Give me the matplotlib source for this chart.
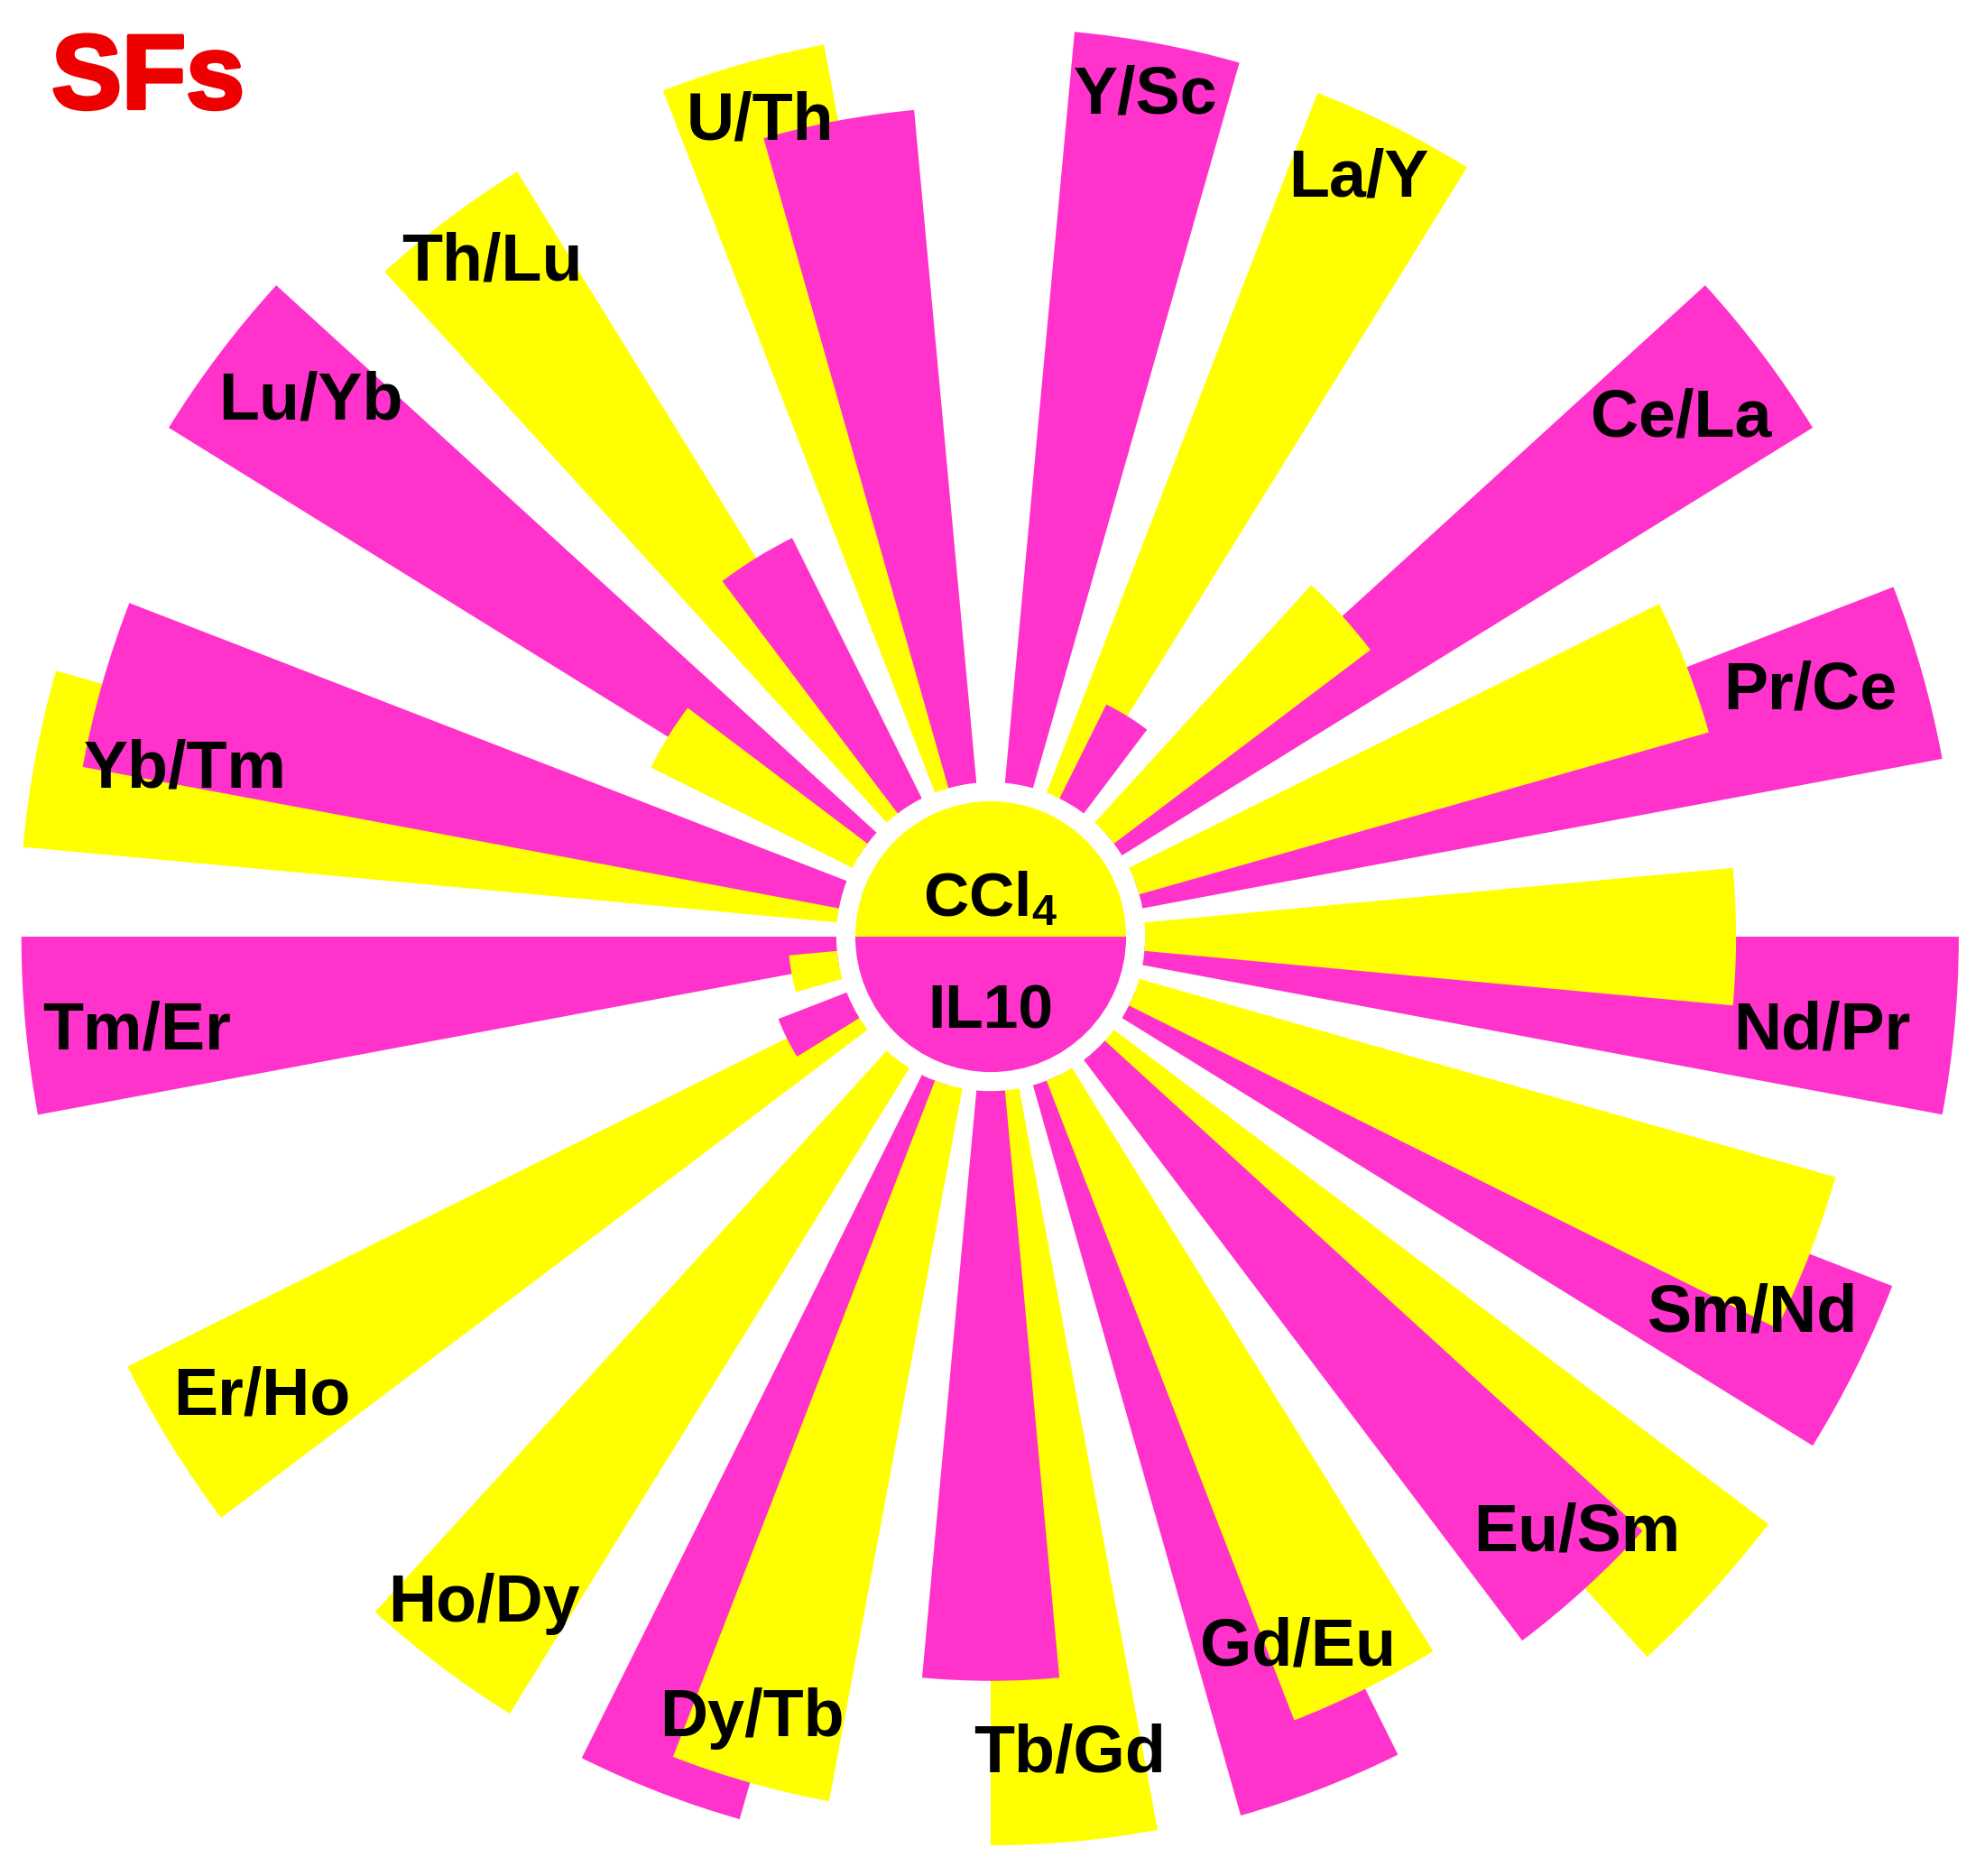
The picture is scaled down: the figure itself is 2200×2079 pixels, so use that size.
import numpy as np
import matplotlib.pyplot as plt
import matplotlib.patheffects as pe

plt.rcParams['font.family'] = ['Liberation Sans', 'DejaVu Sans']
plt.rcParams['mathtext.fontset'] = 'custom'
plt.rcParams['mathtext.rm'] = 'Liberation Sans:bold'
plt.rcParams['mathtext.it'] = 'Liberation Sans:bold'
plt.rcParams['mathtext.bf'] = 'Liberation Sans:bold'

# ratios, clockwise from the top
categories = ['Y/Sc', 'La/Y', 'Ce/La', 'Pr/Ce', 'Nd/Pr', 'Sm/Nd', 'Eu/Sm', 'Gd/Eu', 'Tb/Gd',
              'Dy/Tb', 'Ho/Dy', 'Er/Ho', 'Tm/Er', 'Yb/Tm', 'Lu/Yb', 'Th/Lu', 'U/Th']
ccl4 = [0.0, 5.93, 2.54, 4.68, 4.67, 5.72, 6.48, 5.42, 5.96,
        5.73, 6.00, 6.40, 0.38, 6.46, 1.78, 5.89, 5.95]
il10 = [5.96, 0.83, 6.42, 6.43, 6.43, 6.42, 5.75, 6.00, 4.66,
        6.03, 0.0, 0.58, 6.44, 6.08, 6.42, 2.30, 5.34]

# label placement (degrees clockwise from top, radius)
label_deg = [10.4, 25.9, 53.1, 73.3, 96.5, 116.3, 135.5, 156.6, 174.5,
             197.0, 217.2, 237.7, 263.7, 281.7, 308.2, 323.5, 344.2]
label_r = [6.76, 6.66, 6.82, 6.76, 6.61, 6.72, 6.61, 6.12, 6.49,
           6.46, 6.62, 6.81, 6.79, 6.50, 6.84, 6.63, 6.69]

yellow = '#FFFF00'
magenta = '#FF33CC'
base = 1.22
disk = 1.07

n = len(categories)
step = 2 * np.pi / n
w = step / 2
theta_y = np.arange(n) * step + w / 2
theta_m = theta_y + w / 2

fig = plt.figure(figsize=(22, 20.79), dpi=100)
ax = fig.add_axes([-0.0109, -0.039, 1.02, 1.0794], projection='polar')
ax.set_theta_zero_location('N')
ax.set_theta_direction(-1)
ax.set_ylim(0, 8)
ax.set_axis_off()

yb = ax.bar(theta_y, ccl4, width=w, bottom=base, color=yellow, linewidth=0)
mb = ax.bar(theta_m, il10, width=w, bottom=base, color=magenta, linewidth=0)
# the shorter bar of each pair sits on top
for py, pm, a, b in zip(yb, mb, ccl4, il10):
    py.set_zorder(3 if a < b else 2)
    pm.set_zorder(2 if a < b else 3)

ax.bar([0, np.pi], [disk, disk], width=np.pi, bottom=0, color=[yellow, magenta],
       linewidth=0, zorder=4)
ax.text(0, 0.16, 'CCl$_4$', ha='center', va='baseline', fontsize=50,
        fontweight='bold', zorder=5)
ax.text(np.pi, 0.72, 'IL10', ha='center', va='baseline', fontsize=50,
        fontweight='bold', zorder=5)

for lab, d, r in zip(categories, label_deg, label_r):
    ax.text(np.deg2rad(d), r, lab, ha='center', va='center', fontsize=53,
            fontweight='bold', zorder=6)

fig.text(164 / 2200, 1 - 120 / 2079, 'SFs', color='#EE0000', fontsize=84,
         fontweight='bold', ha='center', va='baseline',
         path_effects=[pe.withStroke(linewidth=3, foreground='#EE0000')])

fig.savefig('out.png', dpi=100, facecolor='white')
